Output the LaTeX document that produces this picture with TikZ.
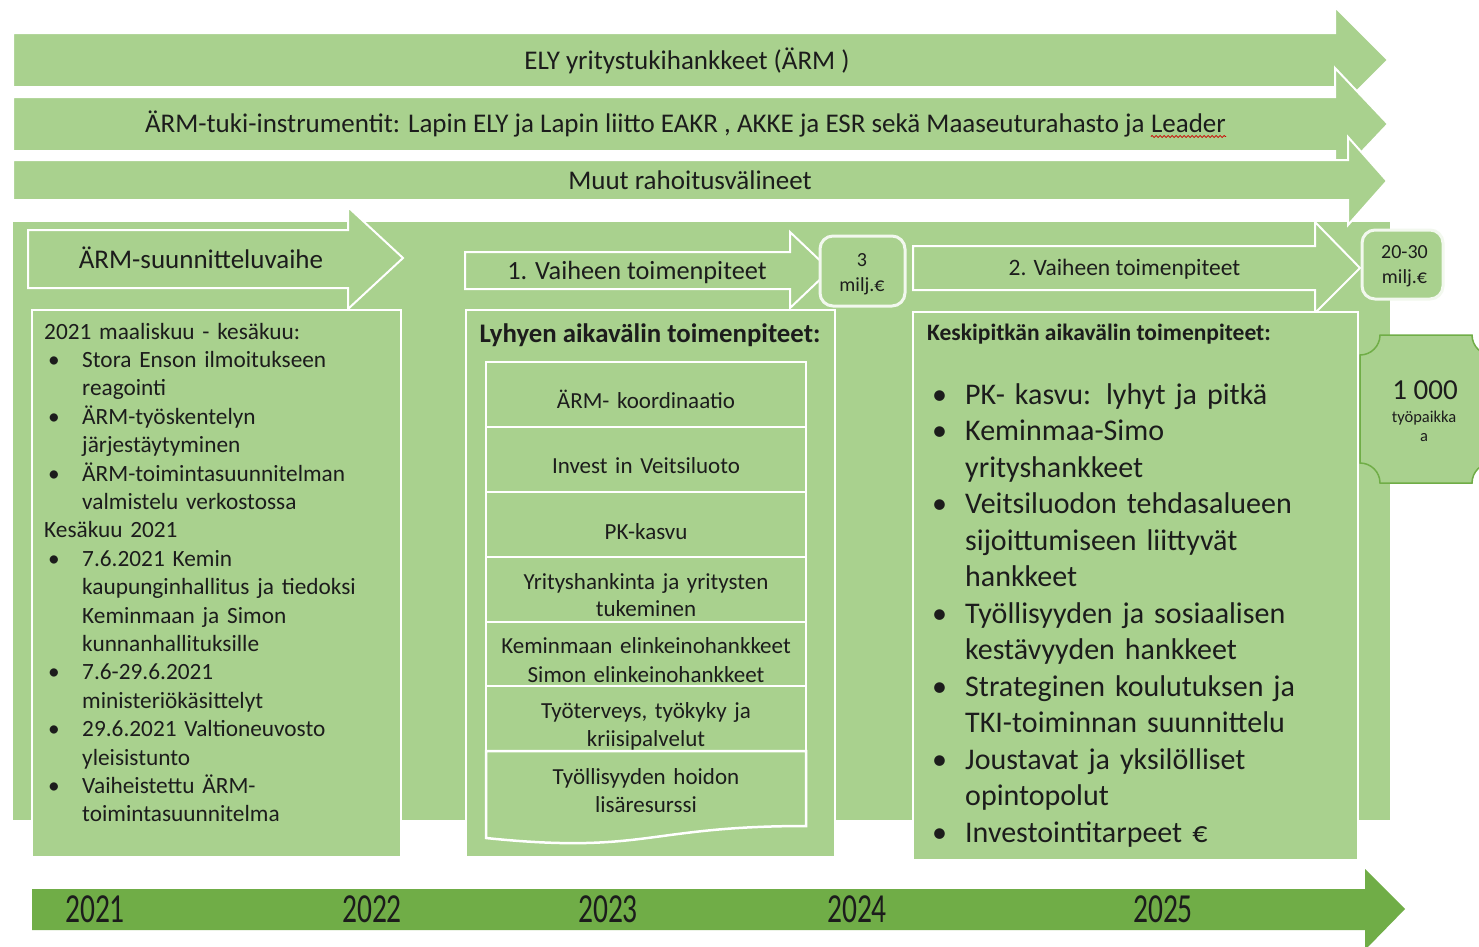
\documentclass[tikz,border=0pt]{standalone}
\usepackage{fontspec}
\setmainfont{Carlito}
\usetikzlibrary{decorations.pathmorphing}
\definecolor{lg}{HTML}{A9D18E}
\definecolor{dg}{HTML}{70AD47}
\definecolor{tx}{HTML}{1C1C1C}
\newcommand{\setfz}[2]{\fontsize{#1}{#2}\selectfont}
\newcommand{\myblt}{\makebox[38pt][l]{\hspace*{4pt}\textbullet}}
\newcommand{\myind}{\hspace*{38pt}}
\newcommand{\myrblt}{\makebox[37pt][l]{\hspace*{4pt}\textbullet}}
\newcommand{\myrind}{\hspace*{37pt}}
\tikzset{
  band/.style={fill=lg, draw=white, line width=2pt, line join=miter},
  panel/.style={fill=lg, draw=white, line width=2.5pt},
  cell/.style={draw=white, line width=2.5pt},
  money/.style={fill=lg, draw=white!85!lg, line width=3pt, rounded corners=13pt},
  lbl/.style={text=tx, inner sep=0pt},
}
\begin{document}
\begin{tikzpicture}[x=1pt,y=-1pt]
\useasboundingbox (0,0) rectangle (1479,946);
\fill[white] (0,0) rectangle (1479,946);
\begin{scope}
\clip (0,0) rectangle (1479,946);
% big background
\fill[lg] (13,222) rectangle (1390,820);
% top arrows
\path[band] (13,33) -- (1335,33) -- (1335,7) -- (1388,60) -- (1335,113) -- (1335,87) -- (13,87) -- cycle;
\path[band] (13,97) -- (1335,97) -- (1335,68) -- (1388,124) -- (1335,180) -- (1335,151) -- (13,151) -- cycle;
\path[band] (13,160) -- (1348,160) -- (1348,137) -- (1387,181) -- (1348,225) -- (1348,200) -- (13,200) -- cycle;
\node[lbl, font=\setfz{27}{31}, anchor=base] (ely) at (687,69.5) {ELY yritystukihankkeet (ÄRM )};
\node[lbl, font=\setfz{27}{31}, anchor=base east] (leader) at (1226,132) {Leader};
\node[lbl, font=\setfz{27}{31}, anchor=base east] (tuki) at ([xshift=-6pt]leader.base west) {ÄRM-tuki-instrumentit: Lapin ELY ja Lapin liitto EAKR , AKKE ja ESR sekä Maaseuturahasto ja};
\draw[red!80!black, line width=0.8pt, decorate, decoration={snake, amplitude=1pt, segment length=4pt}] ([yshift=-4.5pt]leader.base west) -- ([yshift=-4.5pt]leader.base east);
\node[lbl, font=\setfz{27}{31}, anchor=base] (muut) at (690,189.5) {Muut rahoitusvälineet};
% phase arrows
\path[band] (28,230) -- (348,230) -- (348,207) -- (403,258) -- (348,309) -- (348,288) -- (28,288) -- cycle;
\node[lbl, font=\setfz{27}{32}, anchor=base] (suunn) at (201,268.5) {ÄRM-suunnitteluvaihe};
\path[band] (465,252) -- (790,252) -- (790,232) -- (830,270) -- (790,308) -- (790,289) -- (465,289) -- cycle;
\node[lbl, font=\setfz{26.3}{30}, anchor=base] (v1) at (637,279.5) {1. Vaiheen toimenpiteet};
\path[band] (913,246) -- (1315,246) -- (1315,222) -- (1360,268) -- (1315,313) -- (1315,290) -- (913,290) -- cycle;
\node[lbl, font=\setfz{23.5}{28}, anchor=base] (v2) at (1124.5,275.5) {2. Vaiheen toimenpiteet};
% money boxes
\path[money] (820,236) rectangle (905,306);
\node[lbl, font=\setfz{20}{25}, anchor=base] (m3a) at (862,266.5) {3};
\node[lbl, font=\setfz{20}{25}, anchor=base] (m3b) at (862,291.5) {milj.€};
\path[money] (1362,230) rectangle (1443,299);
\node[lbl, font=\setfz{20}{25}, anchor=base] (m20a) at (1404.5,258.5) {20-30};
\node[lbl, font=\setfz{20}{25}, anchor=base] (m20b) at (1404.5,283.5) {milj.€};
% plaque
\path[fill=lg, draw=dg, line width=1.5pt] (1380,335) -- (1472,335) .. controls (1472,346) and (1481,355) .. (1492,355) -- (1492,463) .. controls (1481,463) and (1472,472) .. (1472,483) -- (1380,483) .. controls (1380,472) and (1371,463) .. (1360,463) -- (1360,355) .. controls (1371,355) and (1380,346) .. (1380,335) -- cycle;
\node[lbl, font=\setfz{29}{34}, anchor=base] (tp1) at (1425,399) {1 000};
\node[lbl, font=\setfz{16.5}{20}, anchor=base] (tp2) at (1424,422.5) {työpaikka};
\node[lbl, font=\setfz{16.5}{20}, anchor=base] (tp3) at (1424,441) {a};
% left panel
\path[panel] (32,310) rectangle (401,857);
\node[lbl, font=\setfz{23.3}{28.4}, anchor=base west, text width=360pt, align=left] (ltext) at (44,339) {2021 maaliskuu - kesäkuu:\\
\myblt Stora Enson ilmoitukseen\\
\myind reagointi\\
\myblt ÄRM-työskentelyn\\
\myind järjestäytyminen\\
\myblt ÄRM-toimintasuunnitelman\\
\myind valmistelu verkostossa\\
Kesäkuu 2021\\
\myblt 7.6.2021 Kemin\\
\myind kaupunginhallitus ja tiedoksi\\
\myind Keminmaan ja Simon\\
\myind kunnanhallituksille\\
\myblt 7.6-29.6.2021\\
\myind ministeriökäsittelyt\\
\myblt 29.6.2021 Valtioneuvosto\\
\myind yleisistunto\\
\myblt Vaiheistettu ÄRM-\\
\myind toimintasuunnitelma};
% middle panel
\path[panel] (466,310) rectangle (835,857);
\node[lbl, font=\bfseries\setfz{26.8}{30}, anchor=base] (mtitle) at (650,342) {Lyhyen aikavälin toimenpiteet:};
\path[cell] (486,362) rectangle (806,427);
\path[cell] (486,427) rectangle (806,492);
\path[cell] (486,492) rectangle (806,557);
\path[cell] (486,557) rectangle (806,622);
\path[cell] (486,622) rectangle (806,686);
\path[cell] (486,686) rectangle (806,751);
\path[cell] (486,751) -- (806,751) -- (806,826) .. controls (646,826) and (646,854.5) .. (486,838) -- cycle;
\node[lbl, font=\setfz{23}{27}, text width=320pt, align=center, anchor=base] (c1) at (646,408.5) {ÄRM- koordinaatio};
\node[lbl, font=\setfz{23}{27}, text width=320pt, align=center, anchor=base] (c2) at (646,473.5) {Invest in Veitsiluoto};
\node[lbl, font=\setfz{23}{27}, text width=320pt, align=center, anchor=base] (c3) at (646,539.5) {PK-kasvu};
\node[lbl, font=\setfz{23}{27}, text width=320pt, align=center, anchor=base] (c4) at (646,589.5) {Yrityshankinta ja yritysten\\tukeminen};
\node[lbl, font=\setfz{23}{29}, text width=320pt, align=center, anchor=base] (c5) at (646,653.5) {Keminmaan elinkeinohankkeet\\Simon elinkeinohankkeet};
\node[lbl, font=\setfz{23}{28}, text width=320pt, align=center, anchor=base] (c6) at (646,718.5) {Työterveys, työkyky ja\\kriisipalvelut};
\node[lbl, font=\setfz{23}{28}, text width=320pt, align=center, anchor=base] (c7) at (646,784.5) {Työllisyyden hoidon\\lisäresurssi};
% right panel
\path[panel] (913,312) rectangle (1358,860);
\node[lbl, font=\bfseries\setfz{23.5}{27}, anchor=base west] (rtitle) at (927,340.5) {Keskipitkän aikavälin toimenpiteet:};
\node[lbl, font=\setfz{30}{36.5}, anchor=base west, text width=420pt, align=left] (rtext) at (928,404) {\myrblt PK- kasvu: lyhyt ja pitkä\\
\myrblt Keminmaa-Simo\\
\myrind yrityshankkeet\\
\myrblt Veitsiluodon tehdasalueen\\
\myrind sijoittumiseen liittyvät\\
\myrind hankkeet\\
\myrblt Työllisyyden ja sosiaalisen\\
\myrind kestävyyden hankkeet\\
\myrblt Strateginen koulutuksen ja\\
\myrind TKI-toiminnan suunnittelu\\
\myrblt Joustavat ja yksilölliset\\
\myrind opintopolut\\
\myrblt Investointitarpeet €};
% timeline
\fill[dg] (32,889) -- (1365,889) -- (1365,869) -- (1405,909) -- (1365,950) -- (1365,930) -- (32,930) -- cycle;
\node[lbl, font=\setfz{29.5}{32}, anchor=base] (y1) at (95,922) {\scalebox{1}[1.4]{2021}};
\node[lbl, font=\setfz{29.5}{32}, anchor=base] (y2) at (372,922) {\scalebox{1}[1.4]{2022}};
\node[lbl, font=\setfz{29.5}{32}, anchor=base] (y3) at (608,922) {\scalebox{1}[1.4]{2023}};
\node[lbl, font=\setfz{29.5}{32}, anchor=base] (y4) at (857,922) {\scalebox{1}[1.4]{2024}};
\node[lbl, font=\setfz{29.5}{32}, anchor=base] (y5) at (1163,922) {\scalebox{1}[1.4]{2025}};
\end{scope}
\end{tikzpicture}
\end{document}
